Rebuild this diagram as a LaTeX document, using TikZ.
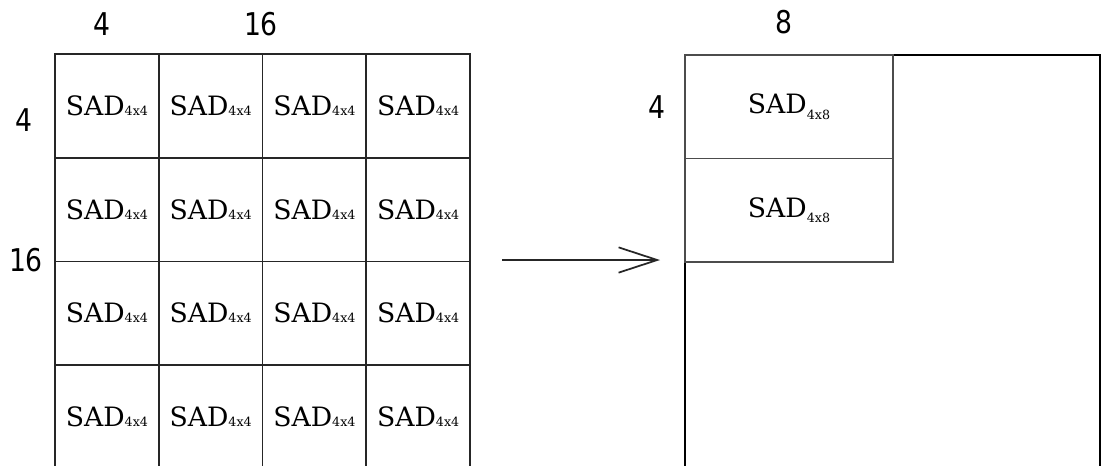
\documentclass[tikz,border=0pt]{standalone}
\usepackage{fontspec}
\setmainfont{DejaVu Serif}
\newfontfamily\numfont[FakeStretch=0.85]{DejaVu Sans}
\usetikzlibrary{arrows.meta}

% sub-block label: SAD with a small size index
\newcommand{\sadlbl}[2]{SAD\raisebox{#2}{\fontsize{9.5}{9.5}\selectfont 4x#1}}

\tikzset{
  lcell/.style={draw=black!85, line width=1.3pt, rectangle, inner sep=0pt, outer sep=0pt,
    minimum width=77.8pt, minimum height=77.8pt, font=\fontsize{20}{20}\selectfont},
  rcell/.style={draw=black!70, line width=0.9pt, rectangle, inner sep=0pt, outer sep=0pt,
    minimum width=156pt, minimum height=77.6pt, font=\fontsize{20}{20}\selectfont},
  bigbox/.style={draw=black, line width=1.5pt, rectangle, inner sep=0pt, outer sep=0pt,
    minimum width=311pt, minimum height=311pt},
  dimlbl/.style={font=\numfont\fontsize{23.5}{23.5}\selectfont, inner sep=0pt},
  flow/.style={line width=1.6pt, black!85,
    -{Straight Barb[length=29pt, width=19pt, line width=1.3pt]}}
}

\begin{document}
\begin{tikzpicture}[x=0.75pt, y=-0.75pt]
\useasboundingbox (0,0) rectangle (1105,465);
\fill[white] (0,0) rectangle (1105,465);

% 16x16 block split into 4x4 sub-blocks
\foreach \r in {0,...,3}{
  \foreach \c in {0,...,3}{
    \node[lcell] (L\r\c) at ({55+103.75*\c+51.875},{54+103.7*\r+51.85}) {\sadlbl{4}{0pt}};
  }
}

% 16x16 block grouped into 4x8 sub-blocks
\node[bigbox] (big) at ({685+207.5},{55+207.5}) {};
\node[rcell] (R0) at ({685+104},{55+51.75}) {\sadlbl{8}{-4pt}};
\node[rcell] (R1) at ({685+104},{55+103.5+51.75}) {\sadlbl{8}{-4pt}};

% size labels
\node[dimlbl] (w4)  at (102,24) {4};
\node[dimlbl] (w16) at (261,24) {16};
\node[dimlbl] (h4)  at (24,120) {4};
\node[dimlbl] (h16) at (26,260) {16};
\node[dimlbl] (w8)  at (784,22) {8};
\node[dimlbl] (h4r) at (657,107) {4};

% transition arrow
\coordinate (aS) at (502,260);
\coordinate (aE) at (660,260);
\draw[flow] (aS) -- (aE);
\end{tikzpicture}
\end{document}
